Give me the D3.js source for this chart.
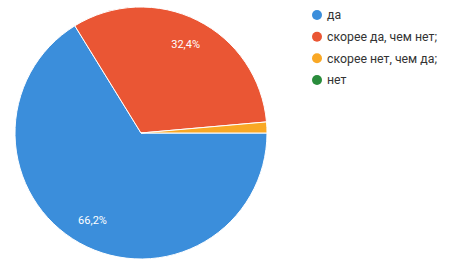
<!DOCTYPE html>
<html>
<script src="https://d3js.org/d3.v7.min.js"></script>
<style>
    body { margin: 0; background: #fff; }
    .legend text { font-family: Roboto, Arial, sans-serif; font-size: 12.3px; fill: #333; }
    .lbl { font-family: Roboto, Arial, sans-serif; font-size: 11px; fill: #fff; }
</style>
<body>
</body>
<script>
    const answers = ["да", "скорее да, чем нет;", "скорее нет, чем да;", "нет"];
    const shares = [66.2, 32.4, 1.4, 0];
    const percentLabels = ["66,2%", "32,4%", "", ""];
    const colors = ["#3b8edb", "#ea5634", "#f9a825", "#2a8c3c"];

    const width = 462,
        height = 261;
    const svg = d3.select("body").append("svg").attr("width", width).attr("height", height);

    const cx = 141, cy = 133, r = 126;
    const pie = d3.pie().sort(null).value(d => d.v)
        .startAngle(Math.PI / 2).endAngle(Math.PI / 2 + 2 * Math.PI);
    const arcs = pie(answers.map((a, i) => ({ a: a, v: shares[i], i: i })));
    const arc = d3.arc().innerRadius(0).outerRadius(r);
    const labelArc = d3.arc().innerRadius(r * 0.79).outerRadius(r * 0.79);

    const g = svg.append("g").attr("transform", `translate(${cx},${cy})`);
    g.selectAll("path")
        .data(arcs.filter(d => d.value > 0))
        .join("path")
        .attr("d", arc)
        .attr("fill", d => colors[d.data.i])
        .attr("stroke", "#fff")
        .attr("stroke-width", 1);

    g.selectAll("text")
        .data(arcs.filter(d => percentLabels[d.data.i]))
        .join("text")
        .attr("class", "lbl")
        .attr("text-anchor", "middle")
        .attr("dy", "0.35em")
        .attr("transform", d => `translate(${labelArc.centroid(d)})`)
        .text(d => percentLabels[d.data.i]);

    const y = d3.scalePoint().domain(answers).range([15, 80]);
    const legend = svg.append("g").attr("class", "legend");
    const item = legend.selectAll("g")
        .data(answers)
        .join("g")
        .attr("transform", d => `translate(317,${y(d)})`);
    item.append("circle").attr("r", 5).attr("fill", (d, i) => colors[i]);
    item.append("text").attr("x", 10).attr("dy", "0.35em").text(d => d);
</script>
</html>
